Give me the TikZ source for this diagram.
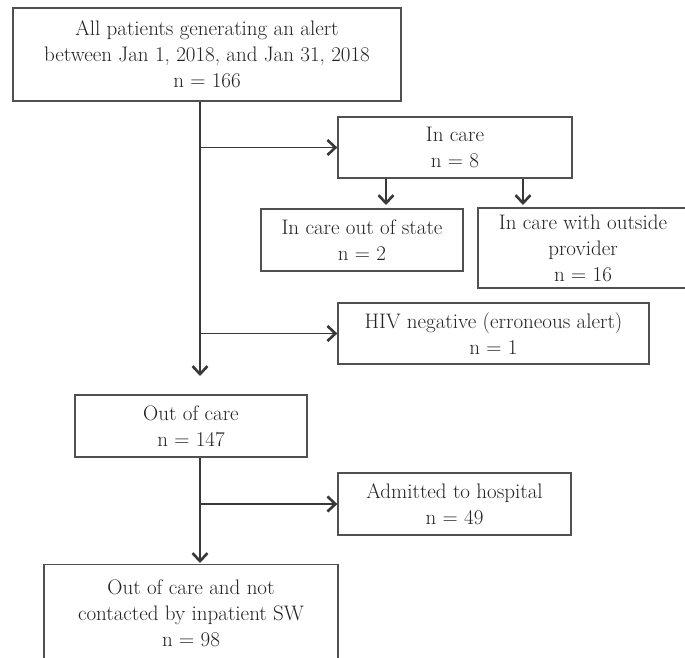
\documentclass[tikz,border=0pt]{standalone}
\usetikzlibrary{arrows.meta}
\definecolor{linec}{HTML}{505050}
\definecolor{connc}{HTML}{383838}
\definecolor{textc}{HTML}{222222}
\begin{document}
\begin{tikzpicture}[x=1pt,y=-1pt,
  box/.style={draw=linec, line width=1.3pt, text=textc, align=center, inner sep=0pt,
    font=\fontsize{21}{26}\selectfont},
  conn/.style={draw=connc, line width=1.6pt},
  arr/.style={conn, -{Straight Barb[length=8pt,width=15pt,line width=2.6pt]}}]
\useasboundingbox (0,0) rectangle (685,657);
\clip (0,0) rectangle (685,657);
\node[box, minimum width=388pt, minimum height=93pt] (all) at (207,54.5)
  {All patients generating an alert\\between Jan 1, 2018, and Jan 31, 2018\\n = 166};
\node[box, minimum width=234pt, minimum height=61pt] (incare) at (455,147.5)
  {In care\\n = 8};
\node[box, minimum width=202pt, minimum height=62pt] (state) at (362,240)
  {In care out of state\\n = 2};
\node[box, minimum width=210pt, minimum height=80pt] (outside) at (583,248)
  {In care with outside\\provider\\n = 16};
\node[box, minimum width=311pt, minimum height=61pt] (hiv) at (493.5,333.5)
  {HIV negative (erroneous alert)\\n = 1};
\node[box, minimum width=232pt, minimum height=62pt] (ooc) at (191,426)
  {Out of care\\n = 147};
\node[box, minimum width=233pt, minimum height=62pt] (adm) at (454.5,504)
  {Admitted to hospital\\n = 49};
\node[box, minimum width=294pt, minimum height=98pt] (final) at (191,613.5)
  {Out of care and not\\contacted by inpatient SW\\n = 98};
\coordinate (t1) at (200,376);
\coordinate (b1) at (200,147.5);
\coordinate (b2) at (200,333.5);
\coordinate (a1) at (386,205);
\coordinate (a2) at (523,205);
\coordinate (t2) at (200,563);
\coordinate (b3) at (200,504);
\draw[arr] (all.south -| t1) -- (t1);
\draw[arr] (b1) -- (incare.west);
\draw[arr] (b2) -- (hiv.west);
\draw[arr] (incare.south -| a1) -- (a1);
\draw[arr] (incare.south -| a2) -- (a2);
\draw[arr] (ooc.south -| t2) -- (t2);
\draw[arr] (b3) -- (adm.west);
\end{tikzpicture}
\end{document}
